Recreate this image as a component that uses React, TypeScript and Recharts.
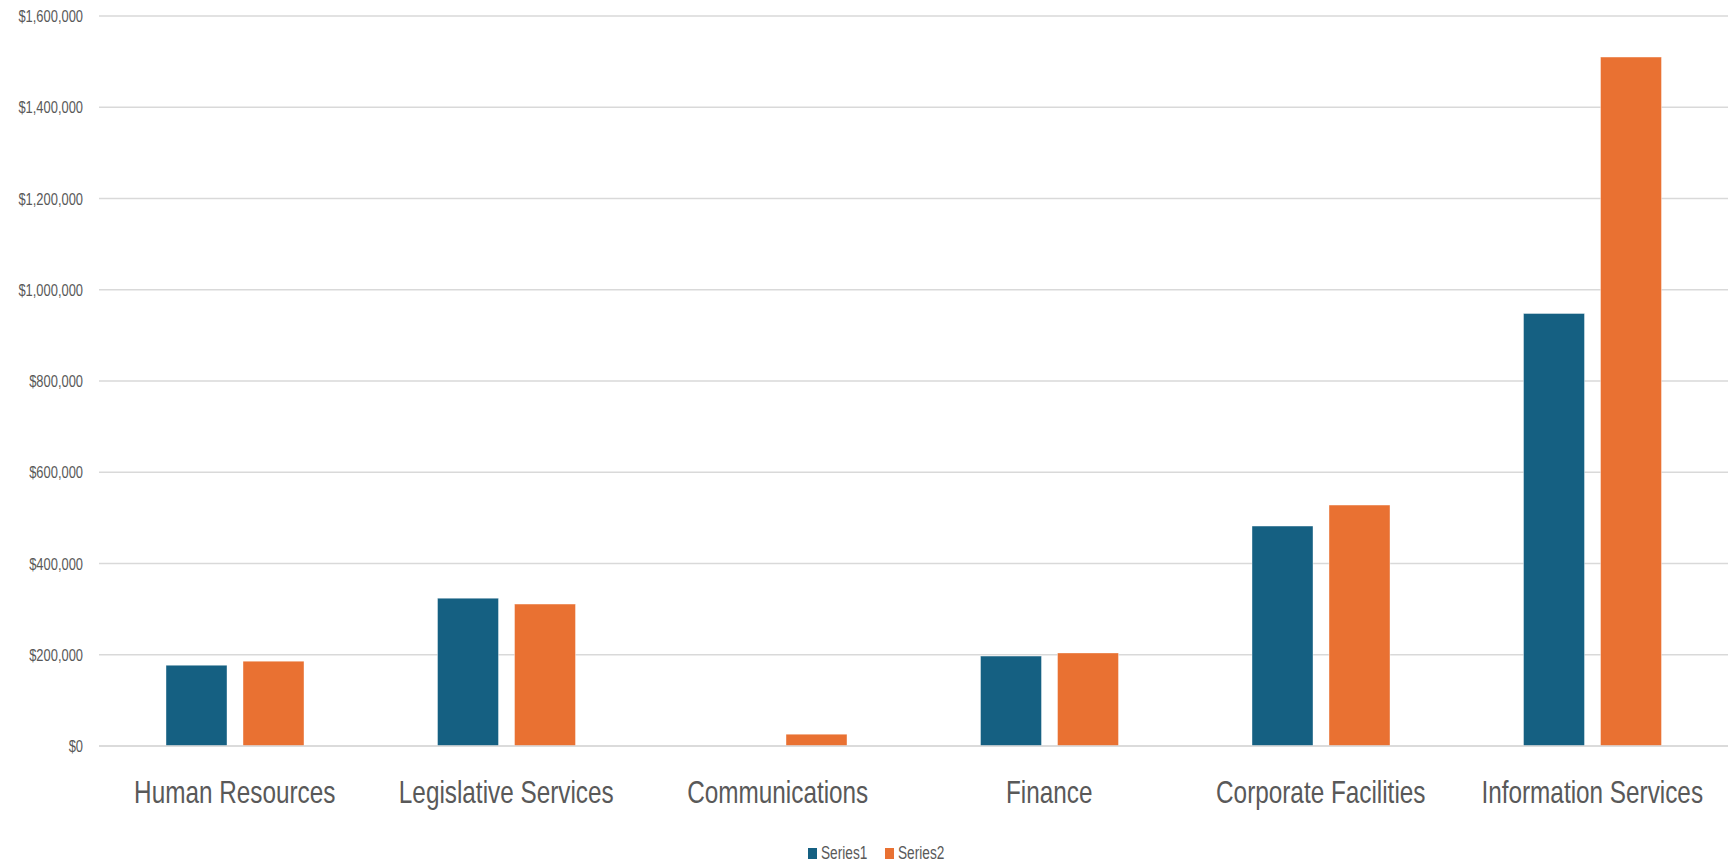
import React from "react";
import {
  BarChart,
  Bar,
  XAxis,
  YAxis,
  CartesianGrid,
  Legend,
} from "recharts";

const departments = [
  "Human Resources",
  "Legislative Services",
  "Communications",
  "Finance",
  "Corporate Facilities",
  "Information Services",
];
const series1 = [177000, 324000, 0, 197000, 482000, 948000];
const series2 = [186000, 311000, 26000, 204000, 528000, 1510000];
const yTicks = [0, 200000, 400000, 600000, 800000, 1000000, 1200000, 1400000, 1600000];
const seriesNames = ["Series1", "Series2"];
const seriesColors = ["#156082", "#E97132"];

const data = departments.map((name, i) => ({
  name,
  Series1: series1[i],
  Series2: series2[i],
}));

// no narrow font installed, so squeeze Liberation Sans horizontally
const FONT = "'Liberation Sans', Arial, sans-serif";
const GREY = "#595959";
const SQUEEZE = 0.76;

const fmt = (v: number) => "$" + v.toLocaleString("en-US");

const XTick = ({ x, y, payload }: any) => (
  <g transform={`translate(${x},${y})`}>
    <text
      textAnchor="middle"
      dy="0.71em"
      transform={`scale(${SQUEEZE},1)`}
      fill={GREY}
      fontSize={32}
      fontFamily={FONT}
    >
      {payload.value}
    </text>
  </g>
);

const YTick = ({ x, y, payload }: any) => (
  <g transform={`translate(${x},${y})`}>
    <text
      textAnchor="end"
      dy="0.355em"
      transform={`scale(${SQUEEZE},1)`}
      fill={GREY}
      fontSize={17}
      fontFamily={FONT}
    >
      {fmt(payload.value)}
    </text>
  </g>
);

const LegendContent = () => (
  <div style={{ display: "flex", justifyContent: "center", alignItems: "center", height: 22, paddingLeft: 26 }}>
    {seriesNames.map((s, i) => (
      <div key={s} style={{ display: "flex", alignItems: "center", marginRight: i === 0 ? 15 : 0 }}>
        <span style={{ width: 9, height: 11, background: seriesColors[i], display: "inline-block", marginRight: 4 }} />
        <span style={{ width: 49, display: "inline-block", overflow: "visible", whiteSpace: "nowrap" }}>
          <span
            style={{
              display: "inline-block",
              transform: `scaleX(${SQUEEZE})`,
              transformOrigin: "left center",
              color: GREY,
              fontSize: 18,
              fontFamily: FONT,
            }}
          >
            {s}
          </span>
        </span>
      </div>
    ))}
  </div>
);

export default function App() {
  return (
    <div style={{ width: 1733, height: 864, fontFamily: FONT, background: "#fff" }}>
      <style>{"body{margin:0}"}</style>
      <BarChart
        width={1733}
        height={864}
        data={data}
        margin={{ top: 16, right: 5, bottom: 0, left: 0 }}
        barSize={61}
        barGap={16}
      >
        <CartesianGrid vertical={false} stroke="#d9d9d9" strokeWidth={1.5} />
        <XAxis
          dataKey="name"
          height={96}
          tickSize={0}
          tickMargin={34}
          axisLine={{ stroke: "#d9d9d9", strokeWidth: 1.5 }}
          tick={<XTick />}
          interval={0}
        />
        <YAxis
          width={99}
          domain={[0, 1600000]}
          ticks={yTicks}
          axisLine={false}
          tickLine={false}
          tickSize={0}
          tickMargin={16}
          tick={<YTick />}
        />
        <Legend verticalAlign="bottom" content={<LegendContent />} />
        <Bar dataKey="Series1" fill={seriesColors[0]} stroke="#ffffff" strokeOpacity={0.4} isAnimationActive={false} />
        <Bar dataKey="Series2" fill={seriesColors[1]} stroke="#ffffff" strokeOpacity={0.4} isAnimationActive={false} />
      </BarChart>
    </div>
  );
}
